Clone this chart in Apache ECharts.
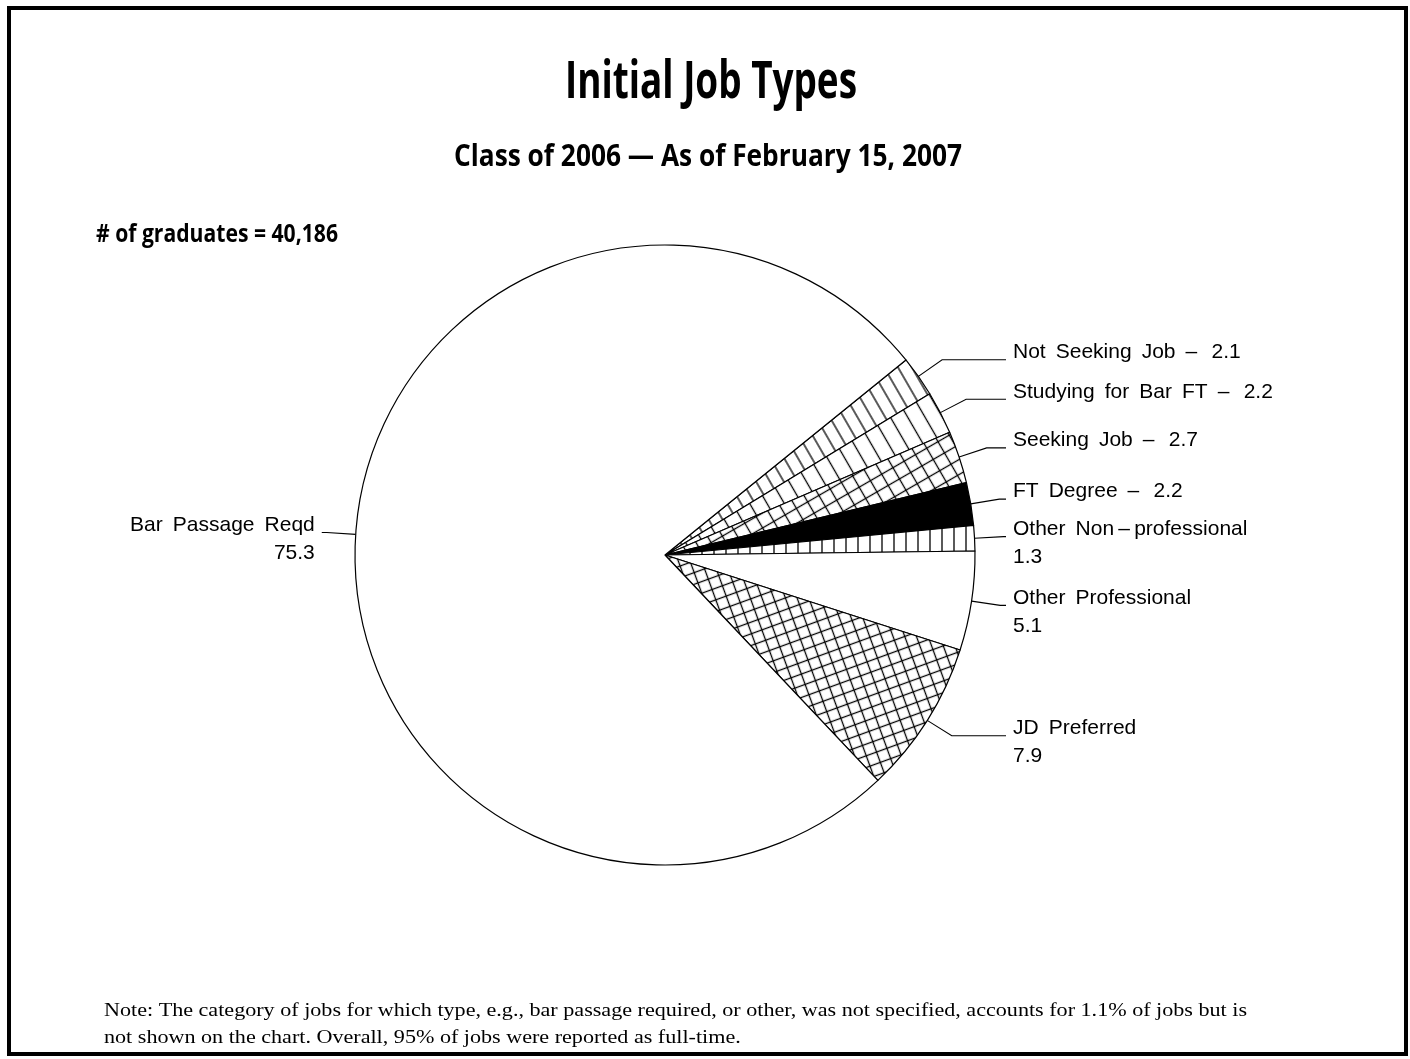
<!DOCTYPE html>
<html><head><meta charset="utf-8">
<script src="https://cdn.jsdelivr.net/npm/echarts@6/dist/echarts.min.js"></script>
<style>html,body{margin:0;padding:0;background:#fff}#c{width:1410px;height:1059px}</style>
</head><body><div id="c"></div>
<script>
// ---- data ----
const categories = ['Not Seeking Job', 'Studying for Bar FT', 'Seeking Job', 'FT Degree',
  'Other Non\u2009\u2013\u2009professional', 'Other Professional', 'JD Preferred', 'Bar Passage Reqd'];
const values = [2.1, 2.2, 2.7, 2.2, 1.3, 5.1, 7.9, 75.3];
const titleText = 'Initial Job Types';
const subtitleText = 'Class of 2006 \u2014 As of February 15, 2007';
const countText = '# of graduates = 40,186';
const noteLines = [
  'Note: The category of jobs for which type, e.g., bar passage required, or other, was not specified, accounts for 1.1% of jobs but is',
  'not shown on the chart. Overall, 95% of jobs were reported as full-time.'
];

// ---- patterns ----
function makeTile(size, horiz, vert) {
  const c = document.createElement('canvas');
  c.width = size; c.height = size;
  const g = c.getContext('2d');
  g.fillStyle = '#fff'; g.fillRect(0, 0, size, size);
  g.strokeStyle = '#000'; g.lineWidth = 1.3;
  if (horiz) { g.beginPath(); g.moveTo(0, size / 2); g.lineTo(size, size / 2); g.stroke(); }
  if (vert) { g.beginPath(); g.moveTo(size / 2, 0); g.lineTo(size / 2, size); g.stroke(); }
  return c;
}
function pattern(size, h, v, deg) {
  return { image: makeTile(size, h, v), repeat: 'repeat', rotation: deg * Math.PI / 180 };
}
const fills = [
  pattern(12, true, false, 60),
  pattern(15, true, false, 60),
  pattern(13, true, true, 60),
  '#000',
  pattern(12, false, true, 0),
  '#fff',
  pattern(11, true, true, 70),
  '#fff'
];
const singleLine = [true, true, true, true, false, false, false, false];

function fitScale(text, font, targetW) {
  const g = document.createElement('canvas').getContext('2d');
  g.font = font;
  return targetW / g.measureText(text).width;
}
const wide = s => String(s).replace(/ /g, ' \u2009');
const titleFont = 'bold 52px "Open Sans"';
const subFont = 'bold 31px "Open Sans"';
const countFont = 'bold 25px "Open Sans"';
const noteFont = '19px "Liberation Serif"';

const CX = 665, CY = 555, R = 310;
const RIGHT_LABEL_X = 1013;
const labelFont = { fontFamily: '"Liberation Sans", Arial, sans-serif', fontSize: 21, lineHeight: 28, color: '#000' };

const chart = echarts.init(document.getElementById('c'), null, { renderer: 'canvas' });
chart.setOption({
  animation: false,
  backgroundColor: '#fff',
  graphic: [
    { type: 'rect', shape: { x: 9, y: 8, width: 1397, height: 1046 }, style: { fill: 'none', stroke: '#000', lineWidth: 4 } },
    { type: 'text', x: 711, y: 83, scaleX: fitScale(titleText, titleFont, 292),
      style: { text: titleText, font: titleFont, fill: '#000', textAlign: 'center', textVerticalAlign: 'middle' } },
    { type: 'text', x: 708, y: 157, scaleX: fitScale(subtitleText, subFont, 508),
      style: { text: subtitleText, font: subFont, fill: '#000', textAlign: 'center', textVerticalAlign: 'middle' } },
    { type: 'text', x: 96, y: 235, scaleX: fitScale(countText, countFont, 242),
      style: { text: countText, font: countFont, fill: '#000', textAlign: 'left', textVerticalAlign: 'middle' } },
    { type: 'text', x: 104, y: 1011, scaleX: fitScale(noteLines[0], noteFont, 1143),
      style: { text: noteLines[0], font: noteFont, fill: '#000', textAlign: 'left', textVerticalAlign: 'middle' } },
    { type: 'text', x: 104, y: 1038, scaleX: fitScale(noteLines[0], noteFont, 1143),
      style: { text: noteLines[1], font: noteFont, fill: '#000', textAlign: 'left', textVerticalAlign: 'middle' } }
  ],
  series: [{
    type: 'pie',
    center: [CX, CY],
    radius: R,
    startAngle: 39,
    clockwise: true,
    avoidLabelOverlap: false,
    emphasis: { disabled: true },
    itemStyle: { borderColor: '#000', borderWidth: 1.2 },
    label: {
      show: true, position: 'outside', distanceToLabelLine: 7,
      color: '#000', fontFamily: labelFont.fontFamily, fontSize: 21, lineHeight: 28,
      rich: {
        a: labelFont,
        s1: { fontSize: 10, lineHeight: 15 },
        s2: { fontSize: 10, lineHeight: 13 }
      }
    },
    labelLine: { show: true, length: 29, length2: 5, smooth: false, lineStyle: { color: '#000', width: 1.1 } },
    labelLayout: function (p) {
      const pts = p.labelLinePoints;
      if (!pts || pts[2][0] < CX) return {};
      return {
        x: RIGHT_LABEL_X, align: 'left',
        labelLinePoints: [pts[0], pts[1], [RIGHT_LABEL_X - 7, pts[1][1]]]
      };
    },
    data: categories.map((n, i) => ({
      name: n, value: values[i],
      itemStyle: { color: fills[i] },
      label: {
        formatter: singleLine[i]
          ? p => '{a|' + wide(p.name) + ' \u2009\u2013\u2009 \u2009' + p.value + '}\n{s1| }'
          : p => '{s2| }\n{a|' + wide(p.name) + '}\n{a|' + p.value + '}'
      }
    }))
  }]
});
</script></body></html>
